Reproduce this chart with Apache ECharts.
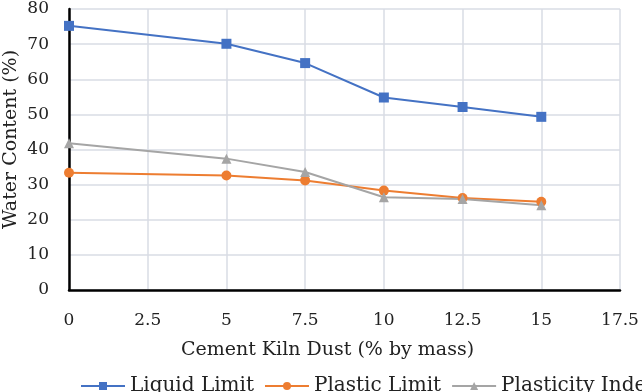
<!DOCTYPE html>
<html><head><meta charset="utf-8">
<script src="https://cdn.jsdelivr.net/npm/echarts@6/dist/echarts.min.js"></script>
<style>html,body{margin:0;padding:0;background:#fff}#c{width:642px;height:392px}</style>
</head><body><div id="c"></div>
<script>
const xValues = [0, 5, 7.5, 10, 12.5, 15];
const liquidLimit = [75.2, 70.1, 64.6, 54.8, 52.1, 49.3];
const plasticLimit = [33.4, 32.6, 31.2, 28.3, 26.2, 25.1];
const plasticityIndex = [41.8, 37.4, 33.6, 26.4, 25.9, 24.1];
const seriesNames = ['Liquid Limit', 'Plastic Limit', 'Plasticity Index'];
const xTitle = 'Cement Kiln Dust (% by mass)';
const yTitle = 'Water Content (%)';

const font = 'DejaVu Serif';
const chart = echarts.init(document.getElementById('c'), null, {renderer: 'canvas'});
function mk(name, vals, color, symbol, size) {
  return {
    name, type: 'line', data: xValues.map((x, i) => [x, vals[i]]),
    symbol, symbolSize: size, showSymbol: true,
    lineStyle: {color, width: 2}, itemStyle: {color},
    animation: false
  };
}
chart.setOption({
  animation: false,
  textStyle: {fontFamily: font},
  grid: {left: 69, right: 22, top: 9, bottom: 102, containLabel: false, outerBoundsMode: 'none'},
  xAxis: {
    type: 'value', min: 0, max: 17.5, interval: 2.5,
    name: xTitle, nameLocation: 'middle', nameGap: 51, nameMoveOverlap: false,
    nameTextStyle: {fontFamily: font, fontSize: 19, color: '#222', padding: [0, 34, 0, 0]},
    axisLine: {lineStyle: {color: '#000', width: 2.5}},
    axisTick: {show: false},
    axisLabel: {fontFamily: font, fontSize: 17, color: '#222', margin: 22},
    splitLine: {show: true, lineStyle: {color: '#d9dde5', width: 1.5}}
  },
  yAxis: {
    type: 'value', min: 0, max: 80, interval: 10,
    name: yTitle, nameLocation: 'middle', nameGap: 48, nameMoveOverlap: false,
    nameTextStyle: {fontFamily: font, fontSize: 19, color: '#222', padding: [0, 0, 0, 20]},
    axisLine: {show: true, lineStyle: {color: '#000', width: 2.5}},
    axisTick: {show: false},
    axisLabel: {fontFamily: font, fontSize: 17, color: '#222', margin: 20},
    splitLine: {show: true, lineStyle: {color: '#d9dde5', width: 1.5}}
  },
  legend: {
    left: 75, top: 371, width: 900, itemWidth: 44, itemHeight: 10, itemGap: 10,
    textStyle: {fontFamily: font, fontSize: 20, color: '#222'},
    data: seriesNames
  },
  series: [
    mk(seriesNames[0], liquidLimit, '#4472C4', 'rect', 10),
    mk(seriesNames[1], plasticLimit, '#ED7D31', 'circle', 10),
    mk(seriesNames[2], plasticityIndex, '#A5A5A5', 'triangle', 10)
  ]
});
</script></body></html>
